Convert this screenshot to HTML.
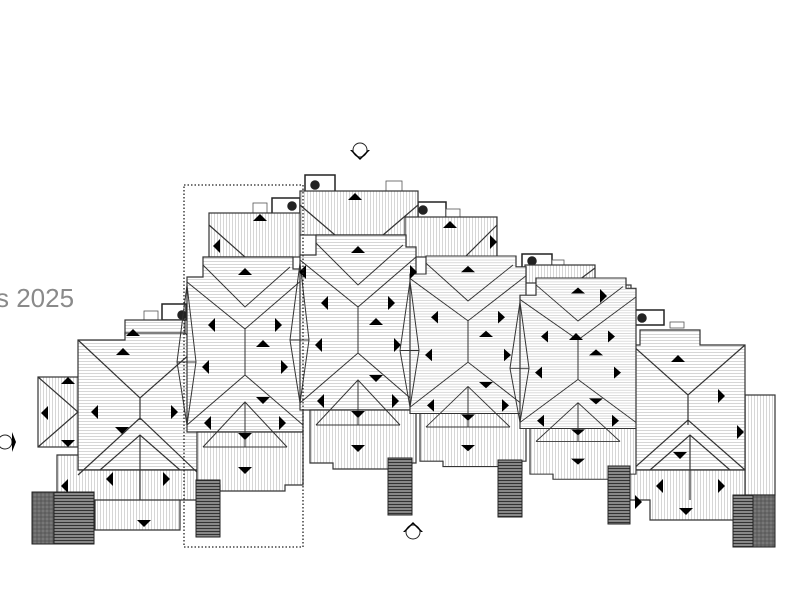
<!DOCTYPE html>
<html><head><meta charset="utf-8"><style>
html,body{margin:0;padding:0;background:#fff;width:800px;height:600px;overflow:hidden}
svg{display:block}
</style></head><body>
<svg width="800" height="600" viewBox="0 0 800 600" xmlns="http://www.w3.org/2000/svg">
<defs>
<pattern id="h" width="6" height="3" patternUnits="userSpaceOnUse"><rect width="6" height="3" fill="#fff"/><line x1="0" y1="1.5" x2="6" y2="1.5" stroke="#bbb" stroke-width="0.6"/></pattern>
<pattern id="v" width="3" height="6" patternUnits="userSpaceOnUse"><rect width="3" height="6" fill="#fff"/><line x1="1.5" y1="0" x2="1.5" y2="6" stroke="#bbb" stroke-width="0.6"/></pattern>
<pattern id="st" width="6" height="3" patternUnits="userSpaceOnUse"><rect width="6" height="3" fill="#888"/><line x1="0" y1="0.5" x2="6" y2="0.5" stroke="#333" stroke-width="1"/></pattern>
<pattern id="st2" width="4" height="4" patternUnits="userSpaceOnUse"><rect width="4" height="4" fill="#777"/><line x1="0" y1="1" x2="4" y2="1" stroke="#444" stroke-width="0.6"/><line x1="1" y1="0" x2="1" y2="4" stroke="#444" stroke-width="0.6"/></pattern>
<g id="unit" stroke="#333" stroke-width="1.2" fill="none">
  <polygon points="-42,0 48,0 48,12 58,12 58,175 -58,175 -58,20 -42,20" fill="url(#h)"/>
  <polygon points="-48,175 58,175 58,228 40,228 40,234 -25,234 -25,228 -48,228" fill="url(#v)"/>
  <path d="M-58,25 L0,72 L58,22 M-42,8 L0,50 L45,10 M0,72 V118 M-58,168 L0,118 L58,168 M-42,190 L0,145 L42,190 M0,145 V190 M-42,190 H42 M-58,28 L-68,105 L-58,168 M-58,28 L-49,105 L-58,168 M-68,105 H-49" stroke-width="1"/>
  <g fill="#000" stroke="none">
    <path d="M-7,18 L7,18 L0,11Z"/>
    <path d="M-30,61 L-30,75 L-37,68Z"/><path d="M30,61 L30,75 L37,68Z"/>
    <path d="M11,90 L25,90 L18,83Z"/>
    <path d="M-36,103 L-36,117 L-43,110Z"/><path d="M36,103 L36,117 L43,110Z"/>
    <path d="M11,140 L25,140 L18,147Z"/>
    <path d="M-34,159 L-34,173 L-41,166Z"/><path d="M34,159 L34,173 L41,166Z"/>
    <path d="M-7,176 L7,176 L0,183Z"/>
    <path d="M-7,210 L7,210 L0,217Z"/>
  </g>
</g>
</defs>

<text x="-4" y="307" font-family="Liberation Sans, sans-serif" font-size="26" fill="#8a8a8a">s 2025</text>

<g stroke="#222" stroke-width="1.5" fill="#fff">
<rect x="305" y="175" width="30" height="17"/><circle cx="315" cy="185" r="4" fill="#222"/>
<rect x="272" y="198" width="28" height="16"/><circle cx="292" cy="206" r="4" fill="#222"/>
<rect x="418" y="202" width="28" height="16"/><circle cx="423" cy="210" r="4" fill="#222"/>
<rect x="522" y="254" width="30" height="14"/><circle cx="532" cy="261" r="4" fill="#222"/>
<rect x="632" y="310" width="32" height="15"/><circle cx="642" cy="318" r="4" fill="#222"/>
<rect x="162" y="304" width="24" height="16"/><circle cx="182" cy="315" r="4" fill="#222"/>
</g>
<g stroke="#555" stroke-width="0.8" fill="#fff">
<rect x="386" y="181" width="16" height="10"/><rect x="253" y="203" width="14" height="10"/>
<rect x="446" y="209" width="14" height="9"/><rect x="144" y="311" width="14" height="10"/>
<rect x="552" y="260" width="12" height="8"/><rect x="670" y="322" width="14" height="6"/>
</g>

<g stroke="#333" stroke-width="1.2">
<rect x="38" y="377" width="40" height="70" fill="url(#v)"/>
<rect x="125" y="320" width="60" height="15" fill="url(#h)"/>
<polygon points="78,340 125,340 125,333 185,333 200,348 200,470 78,470" fill="url(#h)"/>
<polygon points="57,455 78,455 78,470 197,470 197,500 180,500 180,530 95,530 95,500 57,500" fill="url(#v)"/>
<rect x="300" y="191" width="118" height="44" fill="url(#v)"/>
<rect x="209" y="213" width="91" height="44" fill="url(#v)"/>
<rect x="405" y="217" width="92" height="40" fill="url(#v)"/>
<rect x="525" y="265" width="70" height="18" fill="url(#v)"/>
<rect x="593" y="285" width="38" height="45" fill="url(#v)"/>
<rect x="745" y="395" width="30" height="100" fill="url(#v)"/>
<polygon points="640,330 700,330 700,345 745,345 745,470 632,470 632,345 640,345" fill="url(#h)"/>
<polygon points="630,470 745,470 745,500 735,500 735,520 650,520 650,500 630,500" fill="url(#v)"/>
<path fill="none" d="M38,377 L78,412 L38,447 M78,340 L140,398 L200,345 M140,398 V420 M78,475 L140,418 L200,475 M100,470 L140,435 L180,470 M140,435 V500 M95,500 H180 M632,345 L688,395 L745,345 M688,395 V425 M632,470 L688,420 L745,470 M650,470 L690,435 L730,470 M690,435 V500 M300,205 L335,235 M418,205 L383,235 M209,225 L245,257 M497,225 L465,257 M595,268 L575,283 M630,290 L595,330"/>
</g>

<use href="#unit" x="245" y="257"/>
<use href="#unit" x="358" y="235"/>
<g transform="translate(468,256) scale(1,0.9)"><use href="#unit"/></g>
<g transform="translate(578,278) scale(1,0.86)"><use href="#unit"/></g>

<g fill="#000">
<path d="M116,355 L130,355 L123,348Z"/><path d="M126,336 L140,336 L133,329Z"/>
<path d="M98,405 L98,419 L91,412Z"/><path d="M171,405 L171,419 L178,412Z"/>
<path d="M115,427 L129,427 L122,434Z"/><path d="M113,472 L113,486 L106,479Z"/><path d="M163,472 L163,486 L170,479Z"/>
<path d="M137,520 L151,520 L144,527Z"/><path d="M68,479 L68,493 L61,486Z"/>
<path d="M61,384 L75,384 L68,377Z"/><path d="M48,406 L48,420 L41,413Z"/><path d="M61,440 L75,440 L68,447Z"/>
<path d="M348,200 L362,200 L355,193Z"/><path d="M306,265 L306,279 L299,272Z"/><path d="M410,265 L410,279 L417,272Z"/>
<path d="M253,221 L267,221 L260,214Z"/><path d="M220,239 L220,253 L213,246Z"/>
<path d="M443,228 L457,228 L450,221Z"/><path d="M490,235 L490,249 L497,242Z"/>
<path d="M671,362 L685,362 L678,355Z"/><path d="M718,389 L718,403 L725,396Z"/><path d="M737,425 L737,439 L744,432Z"/>
<path d="M663,479 L663,493 L656,486Z"/><path d="M718,479 L718,493 L725,486Z"/><path d="M673,452 L687,452 L680,459Z"/>
<path d="M635,495 L635,509 L642,502Z"/><path d="M679,508 L693,508 L686,515Z"/>
<path d="M600,289 L600,303 L607,296Z"/><path d="M569,340 L583,340 L576,333Z"/>
</g>

<g stroke="#222" stroke-width="1">
<rect x="196" y="480" width="24" height="57" fill="url(#st)"/>
<rect x="388" y="458" width="24" height="57" fill="url(#st)"/>
<rect x="498" y="460" width="24" height="57" fill="url(#st)"/>
<rect x="608" y="466" width="22" height="58" fill="url(#st)"/>
<rect x="32" y="492" width="22" height="52" fill="url(#st2)"/>
<rect x="54" y="492" width="40" height="52" fill="url(#st)"/>
<rect x="733" y="495" width="20" height="52" fill="url(#st)"/>
<rect x="753" y="495" width="22" height="52" fill="url(#st2)"/>
</g>

<rect x="184" y="185" width="119" height="362" fill="none" stroke="#222" stroke-width="1.3" stroke-dasharray="1.5,2"/>

<g stroke="#222" fill="#fff" stroke-width="1">
<circle cx="360" cy="150" r="7"/><circle cx="413" cy="532" r="7"/><circle cx="5" cy="442" r="7"/>
</g>
<g fill="#000">
<path d="M350,150 L360,160 L370,150 L368,150 L360,158 L352,150Z"/>
<path d="M403,532 L413,522 L423,532 L421,532 L413,524 L405,532Z"/>
<path d="M12,432 L16,442 L12,452Z"/>
</g>
</svg>
</body></html>
